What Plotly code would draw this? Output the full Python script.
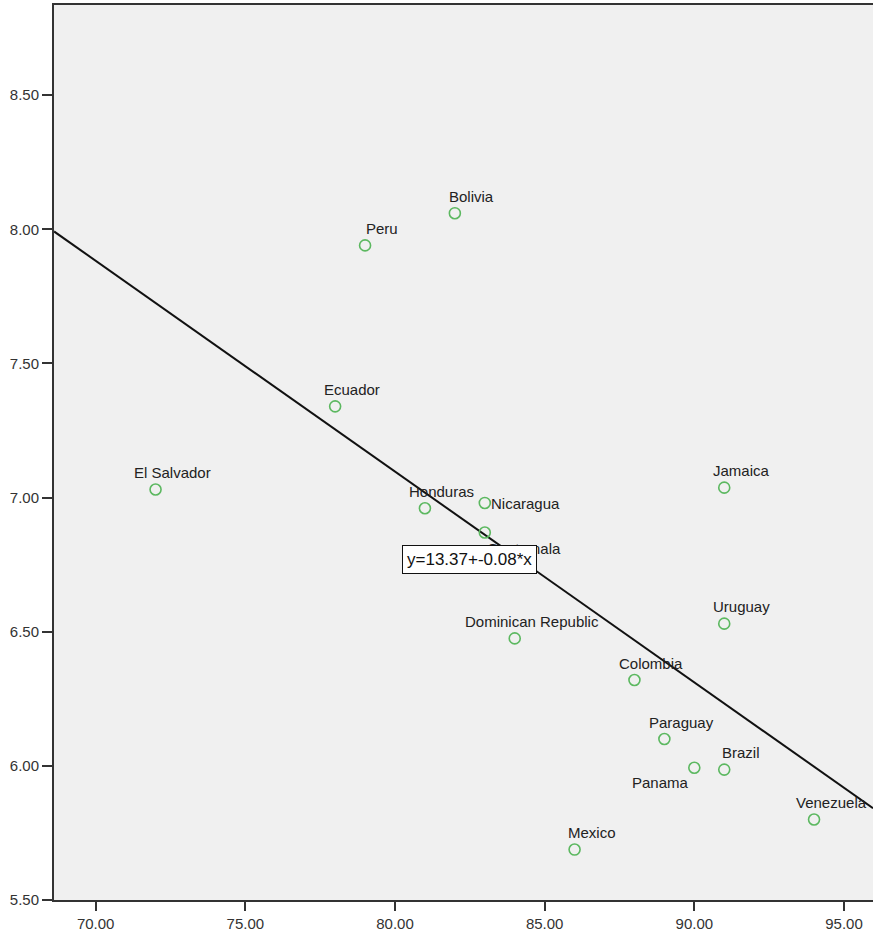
import numpy as np
import plotly.graph_objects as go

countries = ["El Salvador", "Ecuador", "Peru", "Bolivia", "Honduras", "Nicaragua",
             "Guatemala", "Dominican Republic", "Colombia", "Uruguay", "Jamaica",
             "Paraguay", "Panama", "Brazil", "Venezuela", "Mexico"]
x_vals = [72.0, 78.0, 79.0, 82.0, 81.0, 83.0, 83.0, 84.0, 88.0, 91.0, 91.0,
          89.0, 90.0, 91.0, 94.0, 86.0]
y_vals = [7.03, 7.34, 7.94, 8.06, 6.96, 6.98, 6.87, 6.475, 6.32, 6.53, 7.037,
          6.10, 5.993, 5.986, 5.80, 5.688]
x_ticks = [70, 75, 80, 85, 90, 95]
y_ticks = [5.5, 6.0, 6.5, 7.0, 7.5, 8.0, 8.5]
equation_text = "y=13.37+-0.08*x"

x_range = [68.607, 95.97]
y_range = [5.5, 8.836]

slope, intercept = np.polyfit(x_vals, y_vals, 1)
line_x = np.array(x_range)
line_y = intercept + slope * line_x

fig = go.Figure()
fig.add_trace(go.Scatter(x=line_x, y=line_y, mode="lines",
                         line=dict(color="#111111", width=2), hoverinfo="skip",
                         showlegend=False))
fig.add_trace(go.Scatter(x=x_vals, y=y_vals, mode="markers",
                         marker=dict(symbol="circle-open", size=11,
                                     color="#5cb860", line=dict(width=1.6, color="#5cb860")),
                         text=countries, showlegend=False))

# label offsets in pixels (default: above, slightly right)
special = {"Nicaragua": (41, -1), "Guatemala": (39, -16), "Panama": (-34, -15)}
annotations = []
for c, xv, yv in zip(countries, x_vals, y_vals):
    dx, dy = special.get(c, (17, 17))
    annotations.append(dict(x=xv, y=yv, xref="x", yref="y", text=c, showarrow=False,
                            xshift=dx, yshift=dy,
                            font=dict(family="Liberation Sans, Arial, sans-serif",
                                      size=15, color="#222222")))
annotations.append(dict(x=82.49, y=6.769, xref="x", yref="y", text=equation_text,
                        showarrow=False, bgcolor="white", bordercolor="#111111",
                        borderwidth=1, borderpad=4,
                        font=dict(family="Liberation Sans, Arial, sans-serif",
                                  size=17, color="#111111")))

fig.update_layout(
    width=873, height=932,
    margin=dict(l=54, r=0, t=5, b=29),
    paper_bgcolor="white",
    plot_bgcolor="#f0f0f0",
    annotations=annotations,
    font=dict(family="Liberation Sans, Arial, sans-serif", size=15, color="#333333"),
)
fig.update_xaxes(range=x_range, tickvals=x_ticks, ticktext=[f"{v:.2f}" for v in x_ticks],
                 showgrid=False, zeroline=False, showline=True, linecolor="#333333",
                 linewidth=2, mirror=True, ticks="outside", ticklen=9, tickwidth=2,
                 tickcolor="#333333", tickfont=dict(size=15, color="#333333"))
fig.update_yaxes(range=y_range, tickvals=y_ticks, ticktext=[f"{v:.2f}" for v in y_ticks],
                 showgrid=False, zeroline=False, showline=True, linecolor="#333333",
                 linewidth=2, ticks="outside", ticklen=10, tickwidth=2,
                 tickcolor="#333333", tickfont=dict(size=15, color="#333333"))

fig.write_html("out.html", config={"displayModeBar": False},
               post_script="document.body.style.margin='0';document.body.style.overflow='hidden';")
